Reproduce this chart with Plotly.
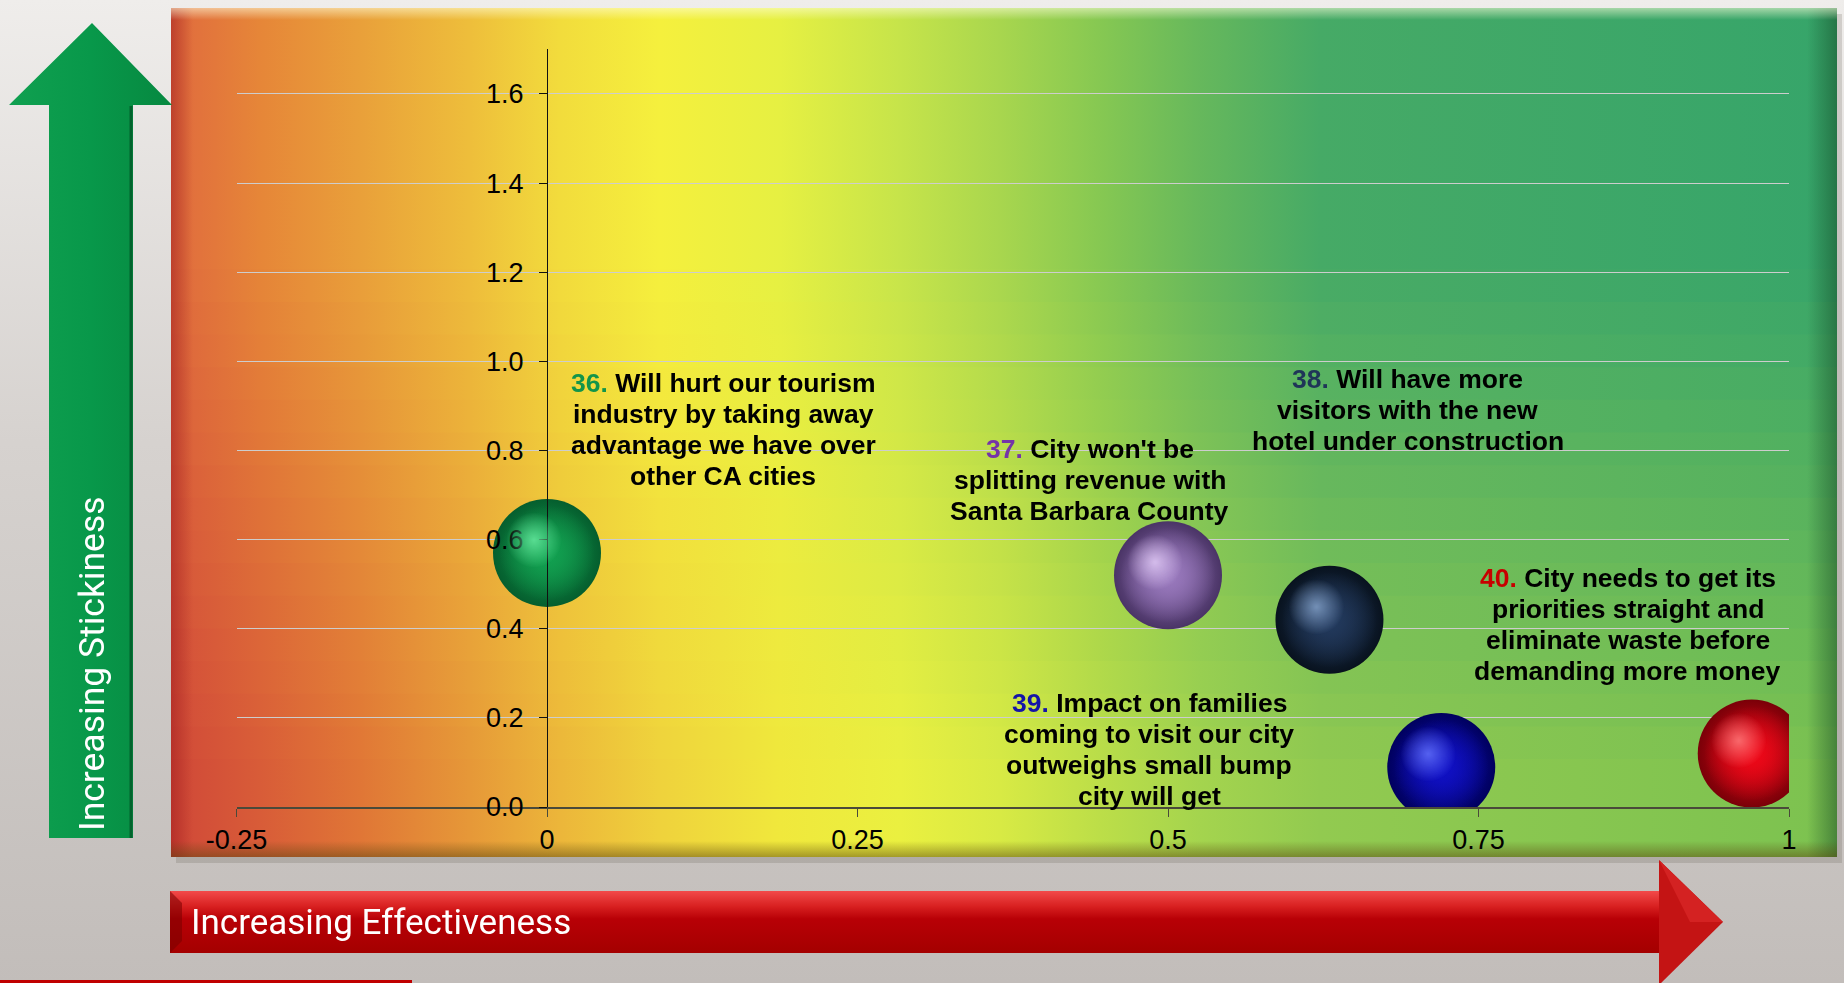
import plotly.graph_objects as go

# ---------------- data ----------------
item_numbers = ["36.", "37.", "38.", "39.", "40."]
effectiveness = [0.0, 0.50, 0.63, 0.72, 0.97]
stickiness = [0.57, 0.52, 0.42, 0.09, 0.12]
item_texts = [
    ["Will hurt our tourism", "industry by taking away", "advantage we have over", "other CA cities"],
    ["City won't be", "splitting revenue with", "Santa Barbara County"],
    ["Will have more", "visitors with the new", "hotel under construction"],
    ["Impact on families", "coming to visit our city", "outweighs small bump", "city will get"],
    ["City needs to get its", "priorities straight and", "eliminate waste before", "demanding more money"],
]
x_tickvals = [-0.25, 0, 0.25, 0.5, 0.75, 1]
x_ticktext = ["-0.25", "0", "0.25", "0.5", "0.75", "1"]
y_tickvals = [0.0, 0.2, 0.4, 0.6, 0.8, 1.0, 1.2, 1.4, 1.6]
x_title = "Increasing Effectiveness"
y_title = "Increasing Stickiness"

# ---------------- styles / layout positions ----------------
W, H = 1844, 983
X_RANGE = [-0.25, 1.0]
Y_RANGE = [0.0, 1.7]
PX_L, PX_R = 236.5, 1789.0      # plot area in pixels
PX_T, PX_B = 49.4, 807.0

label_pos_x = [0.142, 0.437, 0.693, 0.485, 0.870]
label_pos_y = [0.848, 0.734, 0.890, 0.128, 0.410]
number_colors = ["#12954A", "#7534A8", "#1F3558", "#1414A8", "#C80000"]
ball_body = ["#12A050", "#9878BC", "#22395C", "#1010C4", "#EE0818"]
ball_edge = ["#055E2E", "#4A3466", "#08121E", "#00005E", "#7A0008"]
ball_hi = ["#6CEEA4", "#E6D0FA", "#8AA8D0", "#6878FF", "#FF8282"]
BALL_SIZE = 108
LINE_GAP = 31


def hex2rgb(h):
    h = h.lstrip("#")
    return tuple(int(h[i:i + 2], 16) for i in (0, 2, 4))


def mix(a, b, t):
    ra, rb = hex2rgb(a), hex2rgb(b)
    return "rgb(%d,%d,%d)" % tuple(round(ra[i] + (rb[i] - ra[i]) * t) for i in range(3))


def rgba(h, a):
    r, g, b = hex2rgb(h)
    return "rgba(%d,%d,%d,%g)" % (r, g, b, a)


fig = go.Figure()

# ---------- decoration subplot (pixel coordinates, x/y) ----------
def deco(xs, ys, **kw):
    fig.add_trace(go.Scatter(x=xs, y=ys, xaxis="x", yaxis="y", mode="lines",
                             hoverinfo="skip", showlegend=False, **kw))

# page background
deco([0, W, W, 0, 0], [0, 0, H, H, 0], fill="toself", line=dict(width=0),
     fillgradient=dict(type="vertical", start=0, stop=H,
                       colorscale=[[0, "#EFEDEB"], [0.45, "#D6D2CF"], [1, "#C2BDBA"]]))
# bottom-left red line
deco([0, 412], [981.5, 981.5], line=dict(color="#C00000", width=3))

# panel drop shadow
deco([176, 1842, 1842, 176, 176], [14, 14, 863, 863, 14], fill="toself", line=dict(width=0),
     fillcolor="rgba(80,70,60,0.18)")

# panel with shifting horizontal gradient
P_X0, P_X1, P_Y0, P_Y1 = 171, 1837, 8, 857
fr_px = [171, 260, 360, 470, 560, 660, 780, 900, 1000, 1100, 1200, 1320, 1837]
fr = [(p - P_X0) / (P_X1 - P_X0) for p in fr_px]
row_top = ["#E06A3E", "#E68638", "#E9A03A", "#EEBE3B", "#F2DC3C", "#F5F03D", "#E6F042",
           "#C6E44A", "#A8D64E", "#86C852", "#66B85C", "#46AA66", "#36A56A"]
row_bot = ["#D04838", "#D85C38", "#E07636", "#E69838", "#ECB63A", "#EFD23C", "#F0E83C",
           "#EAF040", "#D8EA44", "#BCDE48", "#A4D44E", "#92CA50", "#7CC250"]
N = 26
for i in range(N):
    ya = P_Y0 + (P_Y1 - P_Y0) * i / N
    yb = P_Y0 + (P_Y1 - P_Y0) * (i + 1) / N + (1 if i < N - 1 else 0)
    t = (i + 0.5) / N
    u = min(max((t - 0.3) / 0.6, 0), 1)
    cs = [[fr[k], mix(row_top[k], row_bot[k], u)] for k in range(len(fr))]
    deco([P_X0, P_X1, P_X1, P_X0, P_X0], [ya, ya, yb, yb, ya], fill="toself",
         line=dict(width=0),
         fillgradient=dict(type="horizontal", start=P_X0, stop=P_X1, colorscale=cs))
# bevel edges
deco([P_X0, P_X0 + 22, P_X0 + 22, P_X0, P_X0], [P_Y0, P_Y0, P_Y1, P_Y1, P_Y0], fill="toself",
     line=dict(width=0),
     fillgradient=dict(type="horizontal", start=P_X0, stop=P_X0 + 22,
                       colorscale=[[0, "rgba(160,30,30,0.55)"], [1, "rgba(160,30,30,0)"]]))
deco([P_X1 - 30, P_X1, P_X1, P_X1 - 30, P_X1 - 30], [P_Y0, P_Y0, P_Y1, P_Y1, P_Y0], fill="toself",
     line=dict(width=0),
     fillgradient=dict(type="horizontal", start=P_X1 - 30, stop=P_X1,
                       colorscale=[[0, "rgba(20,70,35,0)"], [1, "rgba(20,70,35,0.5)"]]))
deco([P_X0, P_X1, P_X1, P_X0, P_X0], [P_Y1 - 16, P_Y1 - 16, P_Y1, P_Y1, P_Y1 - 16], fill="toself",
     line=dict(width=0),
     fillgradient=dict(type="vertical", start=P_Y1 - 16, stop=P_Y1,
                       colorscale=[[0, "rgba(90,70,15,0)"], [1, "rgba(90,70,15,0.5)"]]))
deco([P_X0, P_X1, P_X1, P_X0, P_X0], [P_Y0, P_Y0, P_Y0 + 12, P_Y0 + 12, P_Y0], fill="toself",
     line=dict(width=0),
     fillgradient=dict(type="vertical", start=P_Y0, stop=P_Y0 + 12,
                       colorscale=[[0, "rgba(255,255,220,0.55)"], [1, "rgba(255,255,220,0)"]]))

# green up arrow
deco([49, 49, 9, 92, 172, 133, 133, 49], [838, 105, 105, 23, 105, 105, 838, 838],
     fill="toself", line=dict(width=0),
     fillgradient=dict(type="horizontal", start=9, stop=172,
                       colorscale=[[0, "#10A050"], [0.5, "#08984A"], [1, "#068840"]]))
deco([131, 131], [106, 838], line=dict(color="rgba(0,70,30,0.6)", width=3))

# red right arrow
deco([170, 1659, 1659, 170, 170], [891, 891, 953, 953, 891], fill="toself", line=dict(width=0),
     fillgradient=dict(type="vertical", start=891, stop=953,
                       colorscale=[[0, "#F24A4A"], [0.25, "#D82020"], [0.45, "#B80006"], [1, "#A40000"]]))
deco([1659, 1723, 1659, 1659], [860, 922, 985, 860], fill="toself", line=dict(width=0),
     fillcolor="#C41414")
deco([1659, 1690, 1723, 1659], [860, 922, 922, 860], fill="toself", line=dict(width=0),
     fillcolor="#D42222")
deco([170, 182, 182, 170, 170], [891, 903, 941, 953, 891], fill="toself", line=dict(width=0),
     fillcolor="rgba(120,0,0,0.55)")

# ---------- main data subplot ----------
xd = [PX_L / W, PX_R / W]
yd = [1 - PX_B / H, 1 - PX_T / H]
# (plotly radial gradient: gradient.color at the centre, marker.color at the rim)
fig.add_trace(go.Scatter(
    x=effectiveness, y=stickiness, xaxis="x2", yaxis="y2", mode="markers",
    marker=dict(size=BALL_SIZE, color=ball_edge, line=dict(width=0),
                gradient=dict(type="radial", color=ball_body)),
    hoverinfo="x+y", showlegend=False, cliponaxis=True))
fig.add_trace(go.Scatter(
    x=effectiveness, y=stickiness, xaxis="x2", yaxis="y2", mode="markers",
    marker=dict(size=BALL_SIZE * 0.88, color=[rgba(c, 0) for c in ball_body], line=dict(width=0),
                gradient=dict(type="radial", color=ball_body)),
    hoverinfo="skip", showlegend=False, cliponaxis=True))

# highlight subplot (same scales, shifted up-left by a few pixels)
SH = 13
fig.add_trace(go.Scatter(
    x=effectiveness, y=stickiness, xaxis="x3", yaxis="y3", mode="markers",
    marker=dict(size=56, color=[rgba(c, 0) for c in ball_hi], line=dict(width=0),
                gradient=dict(type="radial", color=ball_hi)),
    opacity=0.8, hoverinfo="skip", showlegend=False, cliponaxis=False))

# labels: one annotation per line for tight PowerPoint-like spacing
annotations = []
for i, lines in enumerate(item_texts):
    n = len(lines)
    for j, ln in enumerate(lines):
        txt = ln
        if j == 0:
            txt = '<span style="color:%s">%s</span> %s' % (number_colors[i], item_numbers[i], ln)
        annotations.append(dict(
            x=label_pos_x[i], y=label_pos_y[i], xref="x2", yref="y2", text=txt,
            showarrow=False, xanchor="center", yanchor="middle",
            yshift=((n - 1) / 2 - j) * LINE_GAP,
            font=dict(family="Liberation Sans, Arial, sans-serif", size=26.5, color="#000000",
                      weight="bold")))

annotations.append(dict(x=92, y=664, xref="x", yref="y", text=y_title, textangle=-90,
                        showarrow=False, xanchor="center", yanchor="middle",
                        font=dict(family="Roboto, sans-serif", size=35.5, color="white")))
annotations.append(dict(x=189, y=922, xref="x", yref="y", text=x_title,
                        showarrow=False, xanchor="left", yanchor="middle",
                        font=dict(family="Roboto, sans-serif", size=35, color="white")))

hidden = dict(visible=False, showticklabels=False, showgrid=False, zeroline=False,
              automargin=False, fixedrange=True, ticks="")
tickfont = dict(family="Liberation Sans, Arial, sans-serif", size=27, color="#000000")
fig.update_layout(
    width=W, height=H, autosize=False,
    margin=dict(l=0, r=0, t=0, b=0, pad=0, autoexpand=False),
    paper_bgcolor="#D6D2CF", plot_bgcolor="rgba(0,0,0,0)",
    showlegend=False,
    xaxis=dict(domain=[0, 1], range=[0, W], anchor="y", **hidden),
    yaxis=dict(domain=[0, 1], range=[H, 0], anchor="x", **hidden),
    xaxis2=dict(domain=xd, range=X_RANGE, anchor="y2", showline=True, linecolor="#4A4A3A",
                linewidth=1.5, ticks="outside", ticklen=8, tickcolor="#4A4A3A",
                tickvals=x_tickvals, ticktext=x_ticktext, showgrid=False, zeroline=False,
                tickfont=tickfont, fixedrange=True, automargin=False),
    yaxis2=dict(domain=yd, range=Y_RANGE, anchor="free",
                position=xd[0] + (0 - X_RANGE[0]) / (X_RANGE[1] - X_RANGE[0]) * (xd[1] - xd[0]),
                showline=True, linecolor="#111111", linewidth=1, ticks="outside", ticklen=8,
                tickcolor="#111111", tickvals=y_tickvals, tickformat=".1f",
                ticklabelstandoff=10, automargin=False,
                showgrid=True, gridcolor="#CDCDCD", gridwidth=1, zeroline=False,
                tickfont=tickfont, fixedrange=True),
    xaxis3=dict(domain=[(PX_L - SH) / W, (PX_R - SH) / W], range=X_RANGE, anchor="y3", **hidden),
    yaxis3=dict(domain=[1 - (PX_B - SH) / H, 1 - (PX_T - SH) / H], range=Y_RANGE, anchor="x3",
                **hidden),
    annotations=annotations,
)

fig.write_html(
    "out.html", config={"displayModeBar": False},
    post_script=("document.documentElement.style.margin='0';document.body.style.margin='0';"
                 "document.documentElement.style.overflow='hidden';document.body.style.overflow='hidden';"
                 "document.body.style.background='#D6D2CF';"))
